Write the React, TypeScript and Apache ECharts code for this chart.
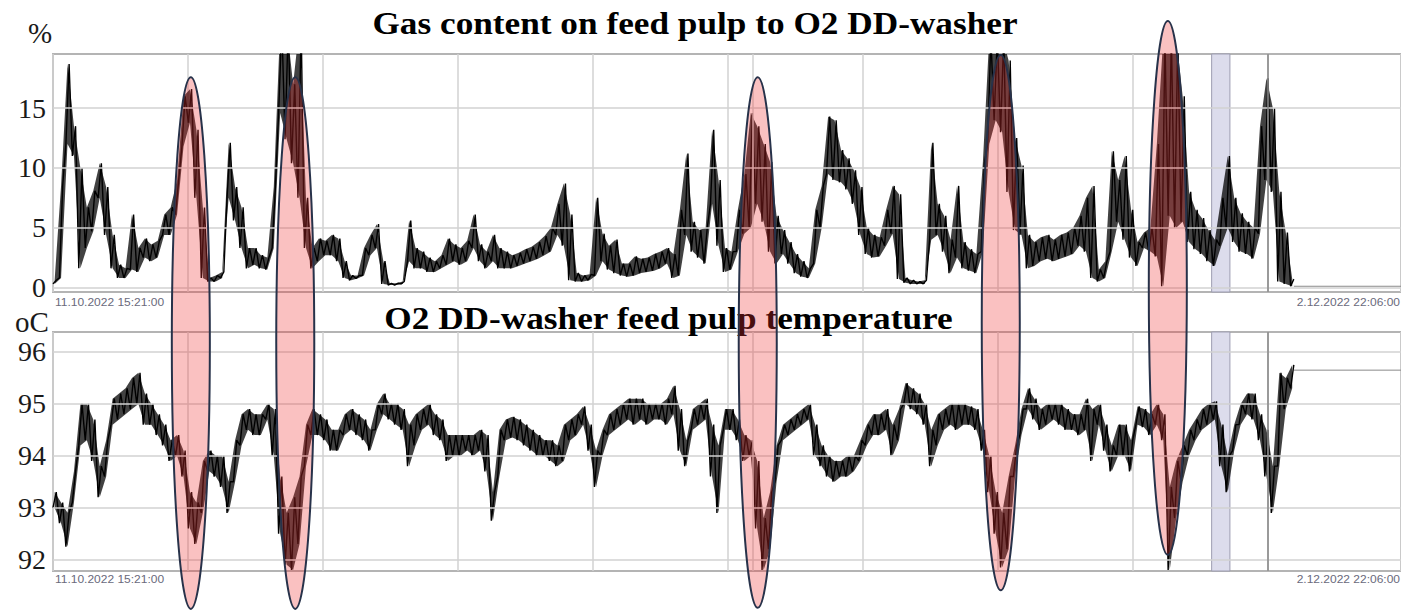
import React, { useEffect, useRef } from "react";
import * as echarts from "echarts";

// ---------- texts ----------
const GAS_TITLE = "Gas content on feed pulp to O2 DD-washer";
const TEMP_TITLE = "O2 DD-washer feed pulp temperature";
const GAS_UNIT = "%";
const TEMP_UNIT = "oC";
const START_LABEL = "11.10.2022 15:21:00";
const END_LABEL = "2.12.2022 22:06:00";

// ---------- axes ----------
const STEP_H = 6; // hours between samples
const X_MAX_H = 1254.75; // 11.10.2022 15:21 -> 2.12.2022 22:06
const V_GRID_H = 125.66;
const gasTicks = [0, 5, 10, 15];
const tempTicks = [92, 93, 94, 95, 96];
const GAS_MIN = -0.38;
const GAS_MAX = 19.54;
const TEMP_MIN = 91.78;
const TEMP_MAX = 96.385;

// ---------- data (low / high envelope of the trace per 6 h sample) ----------
const gasLo = [
  0.3, 0.8, 12, 11, 1.6, 3.3, 4.7, 7.5, 4.4, 1.6,
  0.8, 0.8, 1.5, 1.3, 2.5, 2.2, 2.5, 4.4, 4.4, 6.1,
  11.8, 13.8, 7.5, 0.8, 0.5, 0.5, 0.8, 7.5, 5.6, 3.3,
  1.6, 1.9, 1.6, 1.5, 3.3, 14.6, 12.4, 10.4, 7.5, 3.3,
  1.6, 2.2, 2.7, 2.7, 2.2, 0.8, 0.6, 0.75, 1.0, 2.7,
  3.3, 0.3, 0.2, 0.2, 0.3, 2.2, 1.6, 1.6, 1.3, 1.3,
  1.6, 1.9, 2.2, 1.9, 2.2, 3.3, 2.2, 1.6, 2.2, 1.6,
  1.6, 1.6, 1.8, 2.0, 2.2, 2.4, 2.7, 3.0, 4.4, 3.5,
  0.6, 0.5, 0.5, 0.6, 1.0, 2.2, 1.5, 1.2, 1.0, 0.9,
  1.0, 1.2, 1.3, 1.4, 1.6, 2.0, 0.8, 1.0, 4.4, 3.0,
  2.5, 2.0, 7.0, 3.5, 1.3, 1.5, 3.0, 4.5, 5.0, 7.0,
  5.5, 3.0, 2.0, 2.8, 2.0, 1.2, 0.9, 0.8, 2.0, 5.0,
  9.5, 9.0, 8.8, 8.2, 7.0, 4.4, 2.8, 2.5, 2.6, 3.5,
  4.5, 0.7, 0.4, 0.3, 0.3, 0.3, 4.0, 4.4, 3.0, 1.2,
  2.5, 1.6, 1.4, 1.2, 3.0, 12, 14, 13, 8, 4.8,
  4.4, 1.6, 1.8, 2.2, 2.4, 2.2, 2.4, 2.6, 2.8, 3.5,
  3.0, 0.8, 0.5, 0.8, 3.0, 5.5, 4.0, 2.5, 1.8, 3.3,
  3.0, 2.6, 0.1, 6.0, 5.0, 5.5, 3.8, 3.2, 2.8, 2.2,
  1.8, 3.5, 5.0, 3.8, 3.0, 2.8, 2.4, 4.5, 9, 8,
  0.5, 0.3, 0.1,
];
const gasHi = [
  0.6, 8.5, 18.7, 13.5, 10, 6.7, 8.1, 10.4, 8.4, 4.4,
  1.9, 1.6, 6.1, 3.3, 4.1, 3.6, 3.9, 6.1, 6.7, 9,
  16, 16.6, 13.2, 6.7, 0.8, 1.0, 1.3, 12.1, 8.4, 6.7,
  3.3, 3.3, 2.7, 2.5, 8.4, 22, 22, 17, 22, 7.5,
  3.3, 4.1, 3.9, 4.4, 4.1, 2.2, 1.0, 1.0, 3.3, 4.4,
  5.3, 2.2, 0.35, 0.35, 0.5, 5.6, 3.3, 3.0, 2.5, 2.2,
  2.7, 4.1, 3.6, 3.3, 3.9, 6.1, 3.6, 3.0, 4.4, 3.3,
  3.0, 2.7, 2.9, 3.2, 3.4, 3.8, 4.3, 5.0, 7.0, 8.7,
  6.1, 1.2, 1.0, 1.1, 7.5, 4.5, 3.5, 4.0, 2.0, 2.0,
  2.6, 2.4, 2.5, 2.8, 3.0, 3.3, 2.8, 6.5, 11.2, 5.5,
  4.8, 5.0, 13.2, 9.0, 3.3, 3.0, 6.5, 9.5, 14.6, 13.5,
  12.0, 10.5, 6.0, 4.8, 3.8, 2.8, 2.2, 1.6, 6.5, 8.5,
  14.3, 14.0, 11.5, 10.8, 9.8, 8.4, 5.0, 4.4, 4.2, 6.5,
  8.5, 7.8, 0.8, 0.6, 0.5, 0.6, 12.1, 7.0, 6.0, 4.0,
  8.5, 3.8, 3.2, 2.8, 10.4, 21, 21, 21, 19, 12.5,
  10.2, 4.4, 3.8, 4.2, 4.4, 4.0, 4.4, 4.6, 5.0, 6.0,
  7.5, 8.5, 1.5, 2.2, 11.4, 9.0, 11.0, 6.5, 3.8, 4.6,
  5.0, 12.0, 21, 21, 21, 16, 8.0, 6.5, 5.8, 4.8,
  4.0, 7.5, 11.0, 7.5, 6.2, 5.5, 5.0, 13.5, 17.5, 15,
  8, 4.6, 0.7,
];
const tempLo = [
  93.0, 92.7, 92.25, 93.1, 94.2, 94.3, 93.9, 93.2, 93.6, 94.6,
  94.7, 94.8, 94.9, 95.0, 94.6, 94.6, 94.4, 94.2, 93.9, 94.0,
  93.6, 92.6, 92.3, 92.9, 93.7, 93.6, 93.4, 92.9, 93.5, 94.2,
  94.5, 94.4, 94.4, 94.7, 94.0, 92.5, 91.9, 91.8, 92.3, 93.8,
  94.4, 94.4, 94.3, 94.1, 94.1, 94.4, 94.5, 94.4, 94.3, 94.1,
  94.5, 94.8, 94.7, 94.6, 94.5, 93.8, 94.2, 94.5, 94.6, 94.4,
  94.3, 93.9, 94.0, 94.0, 94.1, 94.0, 94.1, 93.7, 92.75, 93.6,
  94.3, 94.35, 94.3, 94.2, 94.1, 94.0, 94.0, 93.9, 93.8, 93.9,
  94.3, 94.4, 94.6, 94.1, 93.4, 94.0, 94.4, 94.5, 94.6, 94.7,
  94.6, 94.7, 94.6, 94.7, 94.7, 94.6, 94.8, 94.1, 93.8, 94.5,
  94.6, 94.7, 93.6, 92.9, 94.5, 94.5, 94.3, 93.9, 94.0, 92.6,
  91.8, 92.2, 93.5, 94.3, 94.4, 94.5, 94.6, 94.7, 94.0, 93.8,
  93.6, 93.5, 93.6, 93.6, 93.7, 93.9, 94.2, 94.4, 94.4, 94.5,
  94.0, 94.3, 95.0, 94.9, 94.8, 94.6, 93.8, 94.2, 94.5, 94.6,
  94.5, 94.6, 94.6, 94.5, 94.1, 93.3, 92.5, 91.85, 92.2, 93.6,
  94.4, 94.9, 94.7, 94.5, 94.6, 94.7, 94.6, 94.5, 94.5, 94.4,
  94.5, 93.9, 94.6, 94.1, 93.7, 94.0, 94.0, 93.7, 94.6, 94.55,
  94.4, 94.6, 94.3, 91.8, 92.8, 93.5, 94.0, 94.3, 94.5, 94.6,
  94.7, 93.8, 93.3, 94.1, 94.6, 94.8, 94.7, 94.3, 93.6, 92.9,
  93.8, 94.9, 95.3,
];
const tempHi = [
  93.3, 93.1, 92.9, 93.7, 95.0, 95.0, 94.7, 93.8, 94.3, 95.1,
  95.2, 95.3, 95.5, 95.6, 95.2, 95.0, 94.8, 94.6, 94.3, 94.4,
  94.1, 93.3, 93.1, 93.9, 94.1, 94.0, 94.0, 93.5, 94.3, 94.8,
  94.9, 94.8, 94.8, 95.0, 94.9, 93.6, 92.9, 93.2, 93.6, 94.6,
  94.9, 94.8, 94.7, 94.5, 94.5, 94.8, 94.9, 94.8, 94.7, 94.5,
  95.0, 95.2, 95.0, 95.0, 94.9, 94.6, 94.8, 94.9, 95.0, 94.8,
  94.7, 94.4, 94.4, 94.4, 94.4, 94.4, 94.5, 94.4, 93.3, 94.5,
  94.7, 94.75, 94.7, 94.6, 94.5, 94.4, 94.3, 94.3, 94.2, 94.6,
  94.7, 94.8, 94.95, 94.6, 94.1, 94.5, 94.8, 94.9, 95.0, 95.1,
  95.1, 95.1, 95.0, 95.0, 95.0, 95.1, 95.35, 94.9, 94.3, 94.9,
  95.0, 95.1, 94.6, 94.2, 94.9, 94.9, 94.7, 94.4, 94.3, 93.9,
  92.8, 93.3, 94.2, 94.6, 94.7, 94.8, 94.9, 95.0, 94.6, 94.2,
  94.0, 93.9, 93.9, 94.0, 94.0, 94.3, 94.6, 94.8, 94.8, 94.9,
  94.6, 94.9, 95.4, 95.3, 95.2, 95.0, 94.5, 94.8, 94.9, 95.0,
  95.0, 95.0, 94.95, 94.9, 94.5, 94.0, 93.3, 92.9, 93.6, 94.2,
  94.9, 95.3, 95.1, 94.9, 95.0, 95.0, 95.0, 94.9, 94.8, 94.8,
  95.1, 94.9, 95.0, 94.6, 94.2, 94.6, 94.6, 94.3, 94.95, 94.9,
  94.8, 95.0, 94.8, 93.4, 93.9, 94.2, 94.5, 94.7, 94.9, 95.0,
  95.05, 94.6, 94.0, 94.6, 95.0, 95.2, 95.2, 94.8, 94.5, 93.8,
  95.6, 95.5, 95.75,
];
const GAS_TAIL = 0.1;
const TEMP_TAIL = 95.65;

// ---------- annotations ----------
const purpleBandH = [1078.5, 1095.5];
const markerLinesH = [650.9];
const darkMarkerH = [1130.9];
const ellipseCenterH = [128.3, 225.5, 656.0, 882.2, 1037.7];
const ellipseTopGas = [17.6, 17.6, 17.6, 19.46, 22.3];
const ellipseBottomTemp = [91.05, 91.05, 91.07, 91.41, 92.09];
const ELLIPSE_HALF_H = 17.7;

function zigzag(lo: number[], hi: number[]) {
  const out: number[][] = [];
  lo.forEach((v, i) => {
    out.push([i * STEP_H, v]);
    out.push([i * STEP_H + STEP_H / 2, hi[i]]);
  });
  return out;
}

const SERIF = "Liberation Serif";
const SANS = "Liberation Sans";

function markers(ticks: number[]) {
  return {
    silent: true,
    symbol: ["none", "none"],
    label: { show: false },
    animation: false,
    lineStyle: { color: "#d2d2d2", width: 1.5, type: "solid" },
    data: [
      ...ticks.map((v) => ({ yAxis: v })),
      ...markerLinesH.map((h) => ({ xAxis: h })),
      ...darkMarkerH.map((h) => ({ xAxis: h, lineStyle: { color: "#8a8a8a", width: 1.6, type: "solid" } })),
    ],
  };
}

const band = {
  silent: true,
  itemStyle: { color: "#dcdcec", borderColor: "#9d9db2", borderWidth: 1 },
  data: [[{ xAxis: purpleBandH[0] }, { xAxis: purpleBandH[1] }]],
};

const TRACE_STYLE = { color: "#000000", width: 1.4, join: "bevel" };

function traceSeries(axis: number, lo: number[], hi: number[]) {
  return [
    {
      // envelope of the noisy trace, drawn through the axes' scales
      type: "custom", xAxisIndex: axis, yAxisIndex: axis, z: 2, silent: true, clip: true,
      data: [[0, lo[0]]],
      renderItem: (_params: any, api: any) => {
        const pts: number[][] = [];
        hi.forEach((v, i) => pts.push(api.coord([i * STEP_H + STEP_H / 4, v])));
        for (let i = lo.length - 1; i >= 0; i--) pts.push(api.coord([i * STEP_H + STEP_H / 4, lo[i]]));
        return { type: "polygon", shape: { points: pts }, style: { fill: "rgba(0,0,0,0.74)" } };
      },
    },
    {
      type: "line", xAxisIndex: axis, yAxisIndex: axis, z: 3, symbol: "none", silent: true, clip: true,
      data: zigzag(lo, hi), lineStyle: TRACE_STYLE,
    },
  ];
}

export default function App() {
  const ref = useRef<HTMLDivElement>(null);
  useEffect(() => {
    if (!ref.current) return;
    const chart = echarts.init(ref.current, undefined, { renderer: "svg" });
    const tailStart = (gasLo.length - 1) * STEP_H + STEP_H / 2;
    const xAxisBase = {
      type: "value",
      min: 0,
      max: X_MAX_H,
      interval: V_GRID_H,
      axisLine: { show: false },
      axisTick: { show: false },
      axisLabel: { show: false },
      splitLine: { show: true, lineStyle: { color: "#d2d2d2", width: 1.5 } },
    };
    const yLabel = { fontFamily: SERIF, fontSize: 28, color: "#1a1a1a", margin: 7 };
    chart.setOption({
      animation: false,
      backgroundColor: "#ffffff",
      grid: [
        { left: 53, right: 0, top: 54, height: 238, show: true, borderColor: "#b4b4b4", borderWidth: 2, backgroundColor: "transparent" },
        { left: 53, right: 0, top: 332, height: 239, show: true, borderColor: "#b4b4b4", borderWidth: 2, backgroundColor: "transparent" },
      ],
      xAxis: [
        { ...xAxisBase, gridIndex: 0 },
        { ...xAxisBase, gridIndex: 1 },
      ],
      yAxis: [
        {
          gridIndex: 0, type: "value", min: GAS_MIN, max: GAS_MAX,
          axisLine: { show: false }, axisTick: { show: false }, splitLine: { show: false },
          axisLabel: { ...yLabel, customValues: gasTicks },
        },
        {
          gridIndex: 1, type: "value", min: TEMP_MIN, max: TEMP_MAX,
          axisLine: { show: false }, axisTick: { show: false }, splitLine: { show: false },
          axisLabel: { ...yLabel, customValues: tempTicks },
        },
      ],
      series: [
        {
          type: "line", xAxisIndex: 0, yAxisIndex: 0, z: 1, symbol: "none", silent: true,
          data: [[tailStart, GAS_TAIL], [X_MAX_H, GAS_TAIL]],
          lineStyle: { color: "#8a8a8a", width: 1 },
          markLine: markers(gasTicks), markArea: band,
        },
        ...traceSeries(0, gasLo, gasHi),
        {
          type: "line", xAxisIndex: 1, yAxisIndex: 1, z: 1, symbol: "none", silent: true,
          data: [[tailStart, TEMP_TAIL], [X_MAX_H, TEMP_TAIL]],
          lineStyle: { color: "#8a8a8a", width: 1 },
          markLine: markers(tempTicks), markArea: band,
        },
        ...traceSeries(1, tempLo, tempHi),
      ],
    });

    const texts: any[] = [
      { type: "text", x: 695, y: 23, scaleX: 1.137, z: 5, silent: true,
        style: { text: GAS_TITLE, fontFamily: SERIF, fontWeight: "bold", fontSize: 31, fill: "#000", textAlign: "center", textVerticalAlign: "middle" } },
      { type: "text", x: 668.5, y: 318, scaleX: 1.137, z: 5, silent: true,
        style: { text: TEMP_TITLE, fontFamily: SERIF, fontWeight: "bold", fontSize: 31, fill: "#000", textAlign: "center", textVerticalAlign: "middle" } },
      { type: "text", x: 40, y: 33, z: 5, silent: true,
        style: { text: GAS_UNIT, fontFamily: SERIF, fontSize: 29, fill: "#1a1a1a", textAlign: "center", textVerticalAlign: "middle" } },
      { type: "text", x: 32, y: 322, z: 5, silent: true,
        style: { text: TEMP_UNIT, fontFamily: SERIF, fontSize: 29, fill: "#1a1a1a", textAlign: "center", textVerticalAlign: "middle" } },
    ];
    [302, 579].forEach((y) => {
      texts.push({ type: "text", x: 55, y, scaleX: 1.09, z: 5, silent: true,
        style: { text: START_LABEL, fontFamily: SANS, fontSize: 11, fill: "#6a6a7c", textAlign: "left", textVerticalAlign: "middle" } });
      texts.push({ type: "text", x: 1400, y, scaleX: 1.09, z: 5, silent: true,
        style: { text: END_LABEL, fontFamily: SANS, fontSize: 11, fill: "#6a6a7c", textAlign: "right", textVerticalAlign: "middle" } });
    });
    const ellipses = ellipseCenterH.map((h, i) => {
      const cx = chart.convertToPixel({ xAxisIndex: 0 }, h) as number;
      const x1 = chart.convertToPixel({ xAxisIndex: 0 }, h + ELLIPSE_HALF_H) as number;
      const top = chart.convertToPixel({ yAxisIndex: 0 }, ellipseTopGas[i]) as number;
      const bottom = chart.convertToPixel({ yAxisIndex: 1 }, ellipseBottomTemp[i]) as number;
      return {
        type: "ellipse", z: 100, silent: true,
        shape: { cx, cy: (top + bottom) / 2, rx: x1 - cx, ry: (bottom - top) / 2 },
        style: { fill: "rgba(240,50,50,0.3)", stroke: "#27324a", lineWidth: 2 },
      };
    });
    chart.setOption({ graphic: [...texts, ...ellipses] });
    return () => chart.dispose();
  }, []);
  return <div ref={ref} style={{ position: "fixed", left: 0, top: 0, width: 1401, height: 611 }} />;
}
